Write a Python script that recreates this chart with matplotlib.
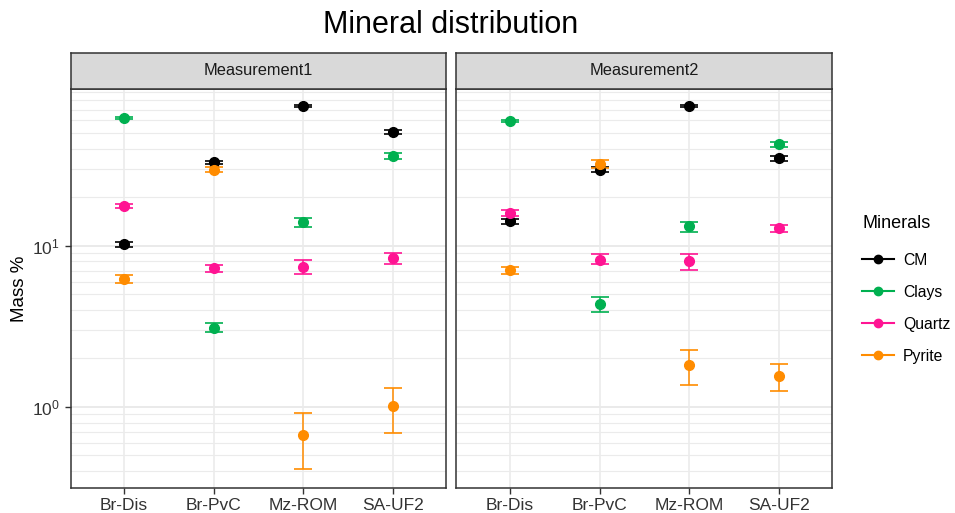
import matplotlib.pyplot as plt
import numpy as np
from matplotlib.lines import Line2D

plt.rcParams['font.family'] = ['Liberation Sans', 'DejaVu Sans']

sites = ["Br-Dis", "Br-PvC", "Mz-ROM", "SA-UF2"]
minerals = ["CM", "Clays", "Quartz", "Pyrite"]
colors = {"CM": "#000000", "Clays": "#00B050", "Quartz": "#FF1493", "Pyrite": "#FF8C00"}
panels = ["Measurement1", "Measurement2"]

# mean, low, high per mineral per site
m1_mean = {"CM": [10.2, 33.0, 74.0, 50.6],
           "Clays": [62.0, 3.1, 14.0, 36.2],
           "Quartz": [17.7, 7.3, 7.4, 8.35],
           "Pyrite": [6.2, 29.6, 0.67, 1.02]}
m1_lo = {"CM": [9.9, 32.2, 73.0, 49.2],
         "Clays": [61.0, 2.9, 13.0, 34.5],
         "Quartz": [17.1, 6.9, 6.7, 7.7],
         "Pyrite": [5.9, 28.8, 0.41, 0.69]}
m1_hi = {"CM": [10.5, 33.8, 75.0, 52.4],
         "Clays": [63.0, 3.3, 14.9, 37.9],
         "Quartz": [18.3, 7.6, 8.2, 9.06],
         "Pyrite": [6.6, 30.7, 0.92, 1.32]}

m2_mean = {"CM": [14.2, 29.5, 74.0, 34.9],
           "Clays": [59.3, 4.35, 13.2, 42.6],
           "Quartz": [16.0, 8.2, 8.1, 12.9],
           "Pyrite": [7.1, 32.1, 1.82, 1.55]}
m2_lo = {"CM": [13.7, 28.6, 73.0, 33.6],
         "Clays": [58.3, 3.9, 12.1, 41.2],
         "Quartz": [15.4, 7.7, 7.1, 12.1],
         "Pyrite": [6.7, 30.2, 1.37, 1.26]}
m2_hi = {"CM": [14.7, 30.7, 75.0, 36.1],
         "Clays": [60.3, 4.8, 14.0, 44.0],
         "Quartz": [16.6, 8.9, 8.9, 13.5],
         "Pyrite": [7.4, 34.1, 2.25, 1.84]}

data = [(m1_mean, m1_lo, m1_hi), (m2_mean, m2_lo, m2_hi)]

fig = plt.figure(figsize=(9.55, 5.13), dpi=100)
W, H = 955, 513
panel_x = [(70.5, 446.3), (456.3, 832.3)]
ptop, pbot = 88.7, 488.0
stop = 52.7

x = np.arange(1, len(sites) + 1)
minor = [v * 10.0 ** k for k in (-1, 0, 1) for v in range(2, 10)]

for i, (x0, x1) in enumerate(panel_x):
    ax = fig.add_axes([x0 / W, 1 - pbot / H, (x1 - x0) / W, (pbot - ptop) / H])
    ax.set_yscale("log")
    ax.set_xlim(0.4, 4.6)
    ax.set_ylim(10 ** -0.503, 10 ** 1.975)
    for v in minor:
        ax.axhline(v, color="#EBEBEB", lw=0.8, zorder=0)
    for v in [1, 10]:
        ax.axhline(v, color="#E6E6E6", lw=1.2, zorder=0)
    for xv in x:
        ax.axvline(xv, color="#EBEBEB", lw=1.2, zorder=0)
    mean, lo, hi = data[i]
    for m in minerals:
        mu = np.array(mean[m])
        err = [mu - np.array(lo[m]), np.array(hi[m]) - mu]
        ax.errorbar(x, mu, yerr=err, fmt="o", color=colors[m], ms=7,
                    elinewidth=1.1, capsize=6.5, capthick=1.2, zorder=3)
    ax.set_xticks(x)
    ax.set_xticklabels(sites, fontsize=12.5, color="#333333")
    ax.yaxis.set_minor_locator(plt.NullLocator())
    ax.set_yticks([1, 10])
    if i == 0:
        ax.tick_params(axis="y", labelsize=12.5, labelcolor="#333333")
        ax.set_ylabel("Mass %", fontsize=13.5, labelpad=3)
    else:
        ax.tick_params(axis="y", left=False, labelleft=False)
    ax.tick_params(axis="both", length=4, width=1, color="#333333")
    ax.tick_params(axis="x", pad=3)
    for s in ax.spines.values():
        s.set_color("#333333")
        s.set_linewidth(1.1)
    # strip
    sax = fig.add_axes([x0 / W, 1 - ptop / H, (x1 - x0) / W, (ptop - stop) / H])
    sax.set_facecolor("#D9D9D9")
    sax.set_xticks([])
    sax.set_yticks([])
    for s in sax.spines.values():
        s.set_color("#333333")
        s.set_linewidth(1.1)
    sax.text(0.5, 0.5, panels[i], ha="center", va="center", fontsize=11.8,
             color="#1A1A1A", transform=sax.transAxes)

fig.text(451 / W, 1 - 25 / H, "Mineral distribution", ha="center", va="center", fontsize=22)

handles = [Line2D([0], [0], color=colors[m], marker="o", ms=6, lw=1.5) for m in minerals]
leg = fig.legend(handles, minerals, title="Minerals", loc="upper left",
                 bbox_to_anchor=(848 / W, 1 - 201 / H), frameon=False, fontsize=11.3,
                 title_fontsize=13, handlelength=2.0, handletextpad=0.6,
                 labelspacing=1.08, alignment="left")
leg._legend_box.sep = 15

fig.savefig("out.png", dpi=100)
